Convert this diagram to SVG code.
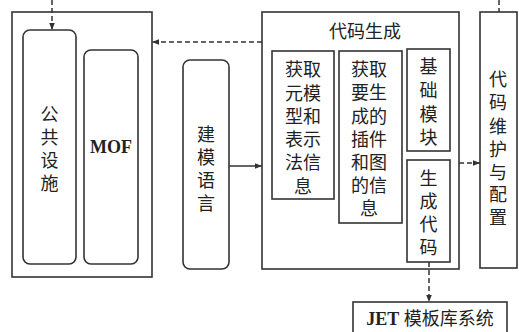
<svg xmlns="http://www.w3.org/2000/svg" width="519" height="332" viewBox="0 0 519 332">
<style>
.box{fill:none;stroke:#333;stroke-width:1.6}
.ln{fill:none;stroke:#333;stroke-width:1.5}
.dash{stroke-dasharray:5 3}
.t{font-family:"Liberation Serif","Noto Sans CJK SC",serif;font-size:18px;fill:#222;text-anchor:middle}
.b{font-weight:bold}
</style>
<defs>
<marker id="ah" viewBox="0 0 10 10" refX="10" refY="5" markerWidth="7" markerHeight="7" orient="auto" markerUnits="userSpaceOnUse">
<path d="M0,1 L10,5 L0,9 z" fill="#333"/>
</marker>
</defs>
<rect width="519" height="332" fill="#fff"/>
<g id="left-group">
<rect class="box" x="12" y="12" width="140" height="265"/>
</g>
<g id="gonggong">
<rect class="box" x="23" y="30" width="53" height="234" rx="7"/>
<text class="t" x="49.5" y="121">公</text>
<text class="t" x="49.5" y="144">共</text>
<text class="t" x="49.5" y="167">设</text>
<text class="t" x="49.5" y="190">施</text>
</g>
<g id="mof">
<rect class="box" x="84" y="50" width="54" height="214" rx="7"/>
<text class="t b" x="111" y="153" font-size="17">MOF</text>
</g>
<g id="jianmo">
<rect class="box" x="183" y="60" width="46" height="209" rx="7"/>
<text class="t" x="206" y="141">建</text>
<text class="t" x="206" y="164">模</text>
<text class="t" x="206" y="187">语</text>
<text class="t" x="206" y="210">言</text>
</g>
<g id="codegen">
<rect class="box" x="262" y="12" width="197" height="257"/>
<text class="t" x="365" y="38">代码生成</text>
</g>
<g id="box-a">
<rect class="box" x="272" y="51" width="62" height="148"/>
<text class="t" x="303" y="76">获取</text>
<text class="t" x="303" y="100">元模</text>
<text class="t" x="303" y="123">型和</text>
<text class="t" x="303" y="146">表示</text>
<text class="t" x="303" y="169">法信</text>
<text class="t" x="303" y="193">息</text>
</g>
<g id="box-b">
<rect class="box" x="339" y="51" width="63" height="172"/>
<text class="t" x="369" y="76">获取</text>
<text class="t" x="369" y="99">要生</text>
<text class="t" x="369" y="123">成的</text>
<text class="t" x="369" y="146">插件</text>
<text class="t" x="369" y="169">和图</text>
<text class="t" x="369" y="192">的信</text>
<text class="t" x="369" y="215">息</text>
</g>
<g id="box-c">
<rect class="box" x="407" y="49" width="43" height="102"/>
<text class="t" x="428.5" y="73">基</text>
<text class="t" x="428.5" y="97">础</text>
<text class="t" x="428.5" y="121">模</text>
<text class="t" x="428.5" y="144">块</text>
</g>
<g id="box-d">
<rect class="box" x="407" y="160" width="43" height="102"/>
<text class="t" x="428.5" y="185">生</text>
<text class="t" x="428.5" y="208">成</text>
<text class="t" x="428.5" y="231">代</text>
<text class="t" x="428.5" y="254">码</text>
</g>
<g id="maint">
<rect class="box" x="480" y="12" width="37" height="256"/>
<text class="t" x="498" y="86">代</text>
<text class="t" x="498" y="109">码</text>
<text class="t" x="498" y="133">维</text>
<text class="t" x="498" y="156">护</text>
<text class="t" x="498" y="179">与</text>
<text class="t" x="498" y="201">配</text>
<text class="t" x="498" y="224">置</text>
</g>
<g id="jet">
<rect class="box" x="353" y="302" width="154" height="40"/>
<text class="t" x="430" y="325"><tspan class="b">JET</tspan> 模板库系统</text>
</g>
<g id="connectors">
<line class="ln dash" x1="52" y1="0" x2="52" y2="30" marker-end="url(#ah)"/>
<line class="ln dash" x1="262" y1="42" x2="152" y2="42" marker-end="url(#ah)"/>
<line class="ln" x1="229" y1="166" x2="262" y2="166" marker-end="url(#ah)"/>
<line class="ln dash" x1="459" y1="163" x2="480" y2="163" marker-end="url(#ah)"/>
<line class="ln dash" x1="499" y1="0" x2="499" y2="12"/>
<line class="ln dash" x1="429" y1="262" x2="429" y2="302" marker-end="url(#ah)"/>
</g>
</svg>
